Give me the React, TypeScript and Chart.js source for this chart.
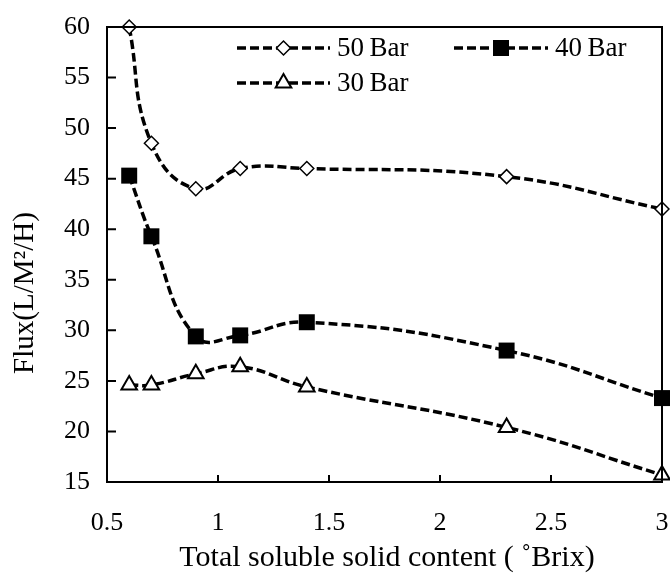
import React, { useEffect, useRef } from "react";
import { Chart, registerables } from "chart.js";

Chart.register(...registerables);

const brixValues = [0.6, 0.7, 0.9, 1.1, 1.4, 2.3, 3.0];
const flux50Bar = [60, 48.5, 44, 46, 46, 45.2, 42];
const flux40Bar = [45.3, 39.3, 29.4, 29.5, 30.8, 28, 23.3];
const flux30Bar = [24.6, 24.6, 25.7, 26.4, 24.4, 20.4, 15.7];

const xTicks = [0.5, 1, 1.5, 2, 2.5, 3];
const yTicks = [15, 20, 25, 30, 35, 40, 45, 50, 55, 60];

const seriesNames = ["50\u2009Bar", "40\u2009Bar", "30\u2009Bar"];
const xTitle = "Total soluble solid content ( \u02DABrix)";
const yTitle = "Flux(L/M\u00B2/H)";

const FONT = "'Liberation Serif', 'Times New Roman', serif";

function drawMarker(ctx: CanvasRenderingContext2D, kind: string, x: number, y: number) {
  ctx.save();
  ctx.setLineDash([]);
  ctx.strokeStyle = "#000";
  ctx.beginPath();
  if (kind === "diamond") {
    const r = 7;
    ctx.moveTo(x - r, y);
    ctx.lineTo(x, y - r);
    ctx.lineTo(x + r, y);
    ctx.lineTo(x, y + r);
    ctx.closePath();
    ctx.fillStyle = "#fff";
    ctx.lineWidth = 1.5;
    ctx.fill();
    ctx.stroke();
  } else if (kind === "square") {
    const s = 8;
    ctx.rect(x - s, y - s, 2 * s, 2 * s);
    ctx.fillStyle = "#000";
    ctx.fill();
  } else {
    const r = 9;
    ctx.moveTo(x, y - r);
    ctx.lineTo(x + r * Math.sin(Math.PI / 3), y + r / 2);
    ctx.lineTo(x - r * Math.sin(Math.PI / 3), y + r / 2);
    ctx.closePath();
    ctx.fillStyle = "#fff";
    ctx.lineWidth = 2;
    ctx.fill();
    ctx.stroke();
  }
  ctx.restore();
}

const decorPlugin = {
  id: "decor",
  afterDraw(chart: any) {
    const { ctx, chartArea: a, scales } = chart;
    const xs = scales.x;
    const ys = scales.y;
    ctx.save();
    ctx.strokeStyle = "#000";
    ctx.lineWidth = 2;
    ctx.setLineDash([]);
    ctx.beginPath();
    ctx.moveTo(a.left, a.top);
    ctx.lineTo(a.right, a.top);
    ctx.lineTo(a.right, a.bottom);
    ctx.stroke();
    ctx.beginPath();
    xTicks.forEach((v) => {
      const px = xs.getPixelForValue(v);
      ctx.moveTo(px, a.bottom);
      ctx.lineTo(px, a.bottom - 7);
    });
    yTicks.forEach((v) => {
      const py = ys.getPixelForValue(v);
      ctx.moveTo(a.left, py);
      ctx.lineTo(a.left + 9, py);
    });
    ctx.stroke();

    // legend
    const items = [
      { kind: "diamond", x0: 237, x1: 330, y: 48, lx: 337, label: seriesNames[0] },
      { kind: "square", x0: 454, x1: 548, y: 48, lx: 555, label: seriesNames[1] },
      { kind: "triangle", x0: 237, x1: 330, y: 83, lx: 337, label: seriesNames[2] },
    ];
    items.forEach((it) => {
      ctx.save();
      ctx.lineWidth = 3.5;
      ctx.setLineDash([9, 4]);
      ctx.beginPath();
      ctx.moveTo(it.x0, it.y);
      ctx.lineTo(it.x1, it.y);
      ctx.stroke();
      ctx.restore();
      drawMarker(ctx, it.kind, (it.x0 + it.x1) / 2, it.y);
      ctx.fillStyle = "#000";
      ctx.font = `27px ${FONT}`;
      ctx.textAlign = "left";
      ctx.textBaseline = "middle";
      ctx.fillText(it.label, it.lx, it.y + 1);
    });

    // axis titles
    ctx.fillStyle = "#000";
    ctx.font = `30px ${FONT}`;
    ctx.textAlign = "center";
    ctx.textBaseline = "middle";
    ctx.fillText(xTitle, 387, 558);
    ctx.font = `29px ${FONT}`;
    ctx.save();
    ctx.translate(25, 293);
    ctx.rotate(-Math.PI / 2);
    ctx.fillText(yTitle, 0, 0);
    ctx.restore();
    ctx.restore();
  },
};

export default function App() {
  const ref = useRef<HTMLCanvasElement | null>(null);
  useEffect(() => {
    document.body.style.margin = "0";
    const canvas = ref.current!;
    const mk = (data: number[]) => brixValues.map((x, i) => ({ x, y: data[i] }));
    const common = {
      borderColor: "#000",
      borderWidth: 3.5,
      borderDash: [9, 4],
      tension: 0.45,
      clip: false as any,
      pointBorderColor: "#000",
    };
    const chart = new Chart(canvas, {
      type: "line",
      data: {
        datasets: [
          {
            ...common,
            label: seriesNames[0],
            data: mk(flux50Bar),
            pointStyle: "rectRot",
            pointRadius: 7,
            pointBackgroundColor: "#fff",
            pointBorderWidth: 1.5,
          },
          {
            ...common,
            label: seriesNames[1],
            data: mk(flux40Bar),
            pointStyle: "rect",
            pointRadius: 11.3,
            pointBackgroundColor: "#000",
            pointBorderWidth: 0,
          },
          {
            ...common,
            label: seriesNames[2],
            data: mk(flux30Bar),
            pointStyle: "triangle",
            pointRadius: 9,
            pointBackgroundColor: "#fff",
            pointBorderWidth: 2,
          },
        ],
      },
      options: {
        responsive: false,
        animation: false,
        devicePixelRatio: 1,
        layout: { autoPadding: false, padding: { top: 27, right: 8, left: 0, bottom: 0 } },
        plugins: { legend: { display: false }, tooltip: { enabled: false } },
        scales: {
          x: {
            type: "linear",
            min: 0.5,
            max: 3,
            afterBuildTicks: (s: any) => {
              s.ticks = xTicks.map((v) => ({ value: v }));
            },
            afterFit: (s: any) => {
              s.height = 92;
              s.paddingLeft = 0;
              s.paddingRight = 0;
            },
            grid: { display: false, drawTicks: false },
            border: { display: true, color: "#000", width: 2 },
            ticks: {
              color: "#000",
              font: { family: FONT, size: 26 },
              padding: 26,
              maxRotation: 0,
              autoSkip: false,
              callback: (v: any) => String(v),
            },
          },
          y: {
            type: "linear",
            min: 15,
            max: 60,
            afterBuildTicks: (s: any) => {
              s.ticks = yTicks.map((v) => ({ value: v }));
            },
            afterFit: (s: any) => {
              s.width = 107;
              s.paddingTop = 0;
              s.paddingBottom = 0;
            },
            grid: { display: false, drawTicks: false },
            border: { display: true, color: "#000", width: 2 },
            ticks: {
              color: "#000",
              font: { family: FONT, size: 26 },
              padding: 17,
              callback: (v: any) => String(v),
            },
          },
        },
      },
      plugins: [decorPlugin],
    });
    return () => chart.destroy();
  }, []);
  return (
    <div style={{ width: 670, height: 574, background: "#fff" }}>
      <canvas ref={ref} width={670} height={574} />
    </div>
  );
}
